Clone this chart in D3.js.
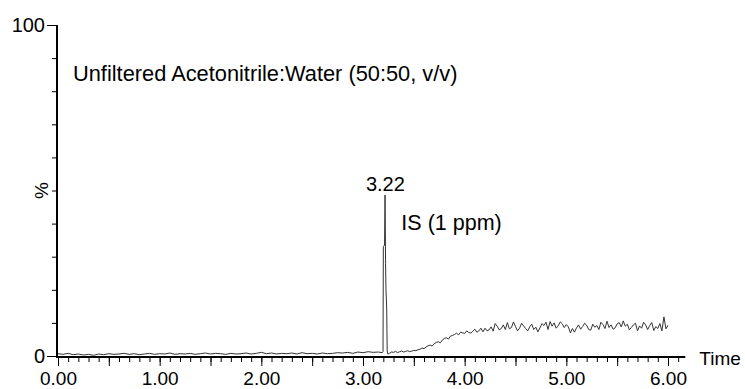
<!DOCTYPE html>
<html>
<head>
<meta charset="utf-8">
<script src="https://cdn.jsdelivr.net/npm/d3@7"></script>
<style>
  html, body { margin: 0; padding: 0; background: #fff; }
  svg { display: block; font-family: "Liberation Sans", Arial, sans-serif; }
</style>
</head>
<body>
<div id="chart"></div>
<script>
// flat baseline before the internal standard elutes
const baseTimes = [0.00, 0.05, 0.10, 0.15, 0.20, 0.25, 0.30, 0.35, 0.40, 0.45, 0.50, 0.55, 0.60, 0.65, 0.70, 0.75,
  0.80, 0.85, 0.90, 0.95, 1.00, 1.05, 1.10, 1.15, 1.20, 1.25, 1.30, 1.35, 1.40, 1.45, 1.50, 1.55, 1.60, 1.65,
  1.70, 1.75, 1.80, 1.85, 1.90, 1.95, 2.00, 2.05, 2.10, 2.15, 2.20, 2.25, 2.30, 2.35, 2.40, 2.45, 2.50, 2.55,
  2.60, 2.65, 2.70, 2.75, 2.80, 2.85, 2.90, 2.95, 3.00, 3.05, 3.10, 3.15];
const baseValues = [0.7, 0.5, 0.8, 0.4, 0.6, 0.3, 0.5, 0.2, 0.6, 0.4, 0.7, 0.5, 0.6, 0.8, 0.5, 0.7,
  0.4, 0.6, 0.8, 0.5, 0.7, 0.6, 0.9, 0.5, 0.7, 0.6, 0.8, 0.5, 0.7, 0.9, 0.6, 0.8,
  0.7, 0.5, 0.8, 0.6, 0.7, 0.9, 0.6, 0.8, 1.1, 0.7, 0.9, 0.6, 0.8, 0.7, 0.9, 0.6,
  1.0, 0.7, 0.8, 0.6, 0.9, 0.7, 0.8, 1.0, 0.9, 1.1, 0.8, 1.2, 1.0, 1.3, 1.1, 1.2];

// IS peak
const peakTimes = [3.190, 3.197, 3.200, 3.212, 3.217, 3.222, 3.226, 3.233, 3.238, 3.245];
const peakValues = [1.0, 1.3, 33.0, 33.5, 48.6, 28.0, 20.0, 14.5, 1.5, 0.6];

// drift after the peak
const driftTimes = [3.26, 3.28, 3.30, 3.32, 3.34, 3.36, 3.38, 3.40, 3.42, 3.44, 3.46, 3.48, 3.50, 3.52, 3.54,
  3.56, 3.58, 3.60, 3.62, 3.64, 3.66, 3.68, 3.70, 3.72, 3.74, 3.76, 3.78, 3.80, 3.82, 3.84, 3.86, 3.88,
  3.90, 3.92, 3.94, 3.96, 3.98, 4.00, 4.02, 4.04, 4.06, 4.08, 4.10, 4.12, 4.14, 4.16, 4.18, 4.20, 4.22,
  4.24, 4.26, 4.28, 4.30, 4.32, 4.34, 4.36, 4.38, 4.40, 4.42, 4.44, 4.46, 4.48, 4.50, 4.52, 4.54, 4.56,
  4.58, 4.60, 4.62, 4.64, 4.66, 4.68, 4.70, 4.72, 4.74, 4.76, 4.78, 4.80, 4.82, 4.84, 4.86, 4.88, 4.90,
  4.92, 4.94, 4.96, 4.98, 5.00, 5.02, 5.04, 5.06, 5.08, 5.10, 5.12, 5.14, 5.16, 5.18, 5.20, 5.22, 5.24,
  5.26, 5.28, 5.30, 5.32, 5.34, 5.36, 5.38, 5.40, 5.42, 5.44, 5.46, 5.48, 5.50, 5.52, 5.54, 5.56, 5.58,
  5.60, 5.62, 5.64, 5.66, 5.68, 5.70, 5.72, 5.74, 5.76, 5.78, 5.80, 5.82, 5.84, 5.86, 5.88, 5.90, 5.92,
  5.94, 5.96, 5.98, 6.00];
const driftValues = [0.8, 1.2, 1.1, 1.4, 1.0, 1.3, 1.5, 1.2, 1.4, 1.6, 1.3, 1.5, 1.7, 1.6, 1.9,
  2.0, 2.4, 2.2, 2.7, 3.1, 3.3, 3.0, 3.7, 4.1, 4.3, 4.0, 4.8, 5.3, 5.5, 5.1, 6.0, 6.2,
  6.5, 6.9, 6.4, 7.2, 7.0, 6.8, 7.6, 7.1, 6.9, 7.5, 8.1, 7.2, 7.6, 8.4, 7.3,
  8.4, 7.6, 7.9, 8.8, 7.5, 9.8, 9.0, 7.9, 8.3, 9.4, 8.0, 10.1, 8.2, 8.6, 10.3, 8.9,
  7.6, 8.4, 9.9, 9.1, 8.3, 7.6, 8.8, 9.6, 8.0, 8.7, 7.3, 8.5, 9.8, 9.2, 10.2, 8.0,
  10.4, 9.0, 10.0, 8.4, 9.1, 10.3, 9.7, 8.6, 9.5, 8.8, 7.0, 8.3, 7.2, 8.5, 9.4, 8.1,
  8.9, 9.9, 9.3, 8.0, 7.8, 9.6, 8.7, 9.2, 8.0, 10.2, 9.5, 8.3, 10.5, 8.6, 9.4, 8.1,
  8.5, 9.7, 10.1, 8.8, 10.6, 9.0, 9.6, 7.9, 8.6, 9.4, 9.9, 7.6, 9.1, 8.4, 10.2, 9.4,
  8.0, 9.2, 10.1, 7.7, 8.9, 8.3, 9.8, 7.6, 11.8, 8.2, 9.3];

const yTickValues = [0, 10, 20, 30, 40, 50, 60, 70, 80, 90, 100];
const yLabelValues = [0, 100];
const xLabelValues = [0, 1, 2, 3, 4, 5, 6];

const title = "Unfiltered Acetonitrile:Water (50:50, v/v)";
const peakName = "IS (1 ppm)";
const peakTime = 3.22;

const width = 745;
const height = 389;

const points = []
  .concat(baseTimes.map((t, i) => [t, baseValues[i]]))
  .concat(peakTimes.map((t, i) => [t, peakValues[i]]))
  .concat(driftTimes.map((t, i) => [t, driftValues[i]]));

const svg = d3.select("#chart").append("svg")
  .attr("width", width)
  .attr("height", height);

const x = d3.scaleLinear().domain([0, 6]).range([58, 668]);
const y = d3.scaleLinear().domain([0, 100]).range([356, 25]);
const xEnd = 6.17;

// trace
svg.append("path")
  .datum(points)
  .attr("fill", "none")
  .attr("stroke", "#333")
  .attr("stroke-width", 1)
  .attr("d", d3.line().x(d => x(d[0])).y(d => y(d[1])));

// x axis: minor ticks every 0.1, longer every 0.5, labels every 1.00
const xg = svg.append("g").attr("transform", `translate(0,${y(0) + 1})`);
xg.append("g")
  .call(d3.axisBottom(x).tickValues(d3.range(0, 62).map(i => i / 10)).tickSize(5).tickFormat(""))
  .call(g => g.select(".domain").remove());
xg.append("g")
  .call(d3.axisBottom(x).tickValues(d3.range(0, 13).map(i => i / 2)).tickSize(9).tickFormat(""))
  .call(g => g.select(".domain").remove());
xg.append("g")
  .call(d3.axisBottom(x).tickValues(xLabelValues).tickSize(0).tickFormat(d3.format(".2f")))
  .call(g => g.select(".domain").remove())
  .call(g => g.selectAll("text")
    .attr("y", 28).attr("dy", null)
    .attr("font-size", 19).attr("font-family", "Liberation Sans, Arial, sans-serif").attr("fill", "#000"));
xg.append("line")
  .attr("x1", x(0) - 1).attr("x2", x(xEnd))
  .attr("stroke", "#000").attr("stroke-width", 2);
xg.append("text")
  .attr("x", x(xEnd) + 14).attr("y", 8)
  .attr("font-size", 19)
  .text("Time");

// y axis
const yg = svg.append("g").attr("transform", `translate(${x(0) - 1},0)`);
yg.append("g")
  .call(d3.axisLeft(y).tickValues(yTickValues).tickSize(5).tickFormat(""))
  .call(g => g.select(".domain").remove());
yg.append("g")
  .call(d3.axisLeft(y).tickValues(yLabelValues).tickSize(10).tickPadding(2).tickFormat(d3.format("d")))
  .call(g => g.select(".domain").remove())
  .call(g => g.selectAll("text")
    .attr("font-size", 20).attr("font-family", "Liberation Sans, Arial, sans-serif").attr("fill", "#000"));
yg.append("line")
  .attr("y1", y(100)).attr("y2", y(0) + 2)
  .attr("stroke", "#000").attr("stroke-width", 2);
yg.append("text")
  .attr("transform", `translate(-9,${y(50)}) rotate(-90)`)
  .attr("text-anchor", "middle")
  .attr("font-size", 19)
  .text("%");

// annotations
svg.append("text")
  .attr("x", 73).attr("y", 81)
  .attr("font-size", 21.8)
  .text(title);

svg.append("text")
  .attr("x", x(peakTime)).attr("y", y(d3.max(peakValues)) - 4)
  .attr("text-anchor", "middle")
  .attr("font-size", 20)
  .text(peakTime.toFixed(2));

svg.append("text")
  .attr("x", x(peakTime) + 16).attr("y", 230)
  .attr("font-size", 21.5)
  .text(peakName);
</script>
</body>
</html>
